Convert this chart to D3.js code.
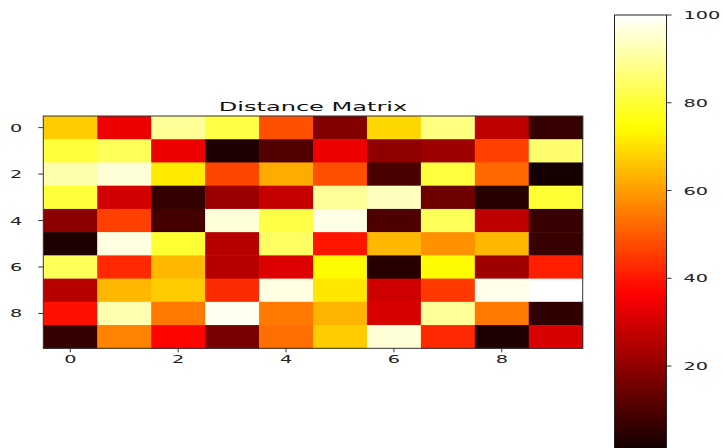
<!DOCTYPE html>
<html>
<head>
<meta charset="utf-8">
<script src="https://cdn.jsdelivr.net/npm/d3@7"></script>
<style>
  html, body { margin: 0; padding: 0; background: #fff; }
  svg { display: block; font-family: "DejaVu Sans", sans-serif; }
</style>
</head>
<body>
<svg id="chart" width="723" height="448"></svg>
<script>
const title = "Distance Matrix";
const rows = [0,1,2,3,4,5,6,7,8,9];
const cols = [0,1,2,3,4,5,6,7,8,9];
const tickLabels = [0,2,4,6,8];
const colorbarTicks = [20,40,60,80,100];
const colorDomain = [0, 100];

const row0 = [67, 34, 89.6, 81.5, 48.5, 18, 68.6, 87.5, 27, 6.5];
const row1 = [80.6, 83.6, 34, 3, 10.7, 34, 20, 22, 46, 85.6];
const row2 = [91.5, 96, 71.6, 47, 62, 48.5, 9.3, 81, 52.2, 1.5];
const row3 = [80.6, 30, 6.4, 21.5, 28, 89.6, 93.6, 15, 4.3, 80];
const row4 = [19.3, 46, 8.6, 96, 81.6, 97.6, 10, 83.6, 27, 7];
const row5 = [2.9, 97, 79.6, 25.8, 84.6, 39.5, 64, 58, 64, 7];
const row6 = [83.6, 42.5, 64, 25.8, 31.5, 74, 4.3, 74, 22, 41];
const row7 = [25.8, 64, 67, 43, 97, 71, 29.3, 44.7, 98, 100];
const row8 = [38.7, 92, 54.5, 98.5, 54.5, 63.5, 30.8, 89.6, 54.5, 5.7];
const row9 = [6.4, 56, 37, 16.5, 53, 67, 96, 42.5, 2.9, 30.8];
const matrix = [row0, row1, row2, row3, row4, row5, row6, row7, row8, row9];

// matplotlib "hot" colormap
function hot(t) {
  t = Math.max(0, Math.min(1, t));
  const a = 0.365079, b = 0.746032;
  const r = t < a ? 0.0416 + (1 - 0.0416) * t / a : 1;
  const g = t < a ? 0 : (t < b ? (t - a) / (b - a) : 1);
  const bl = t < b ? 0 : (t - b) / (1 - b);
  return d3.rgb(r * 255, g * 255, bl * 255).toString();
}
const norm = d3.scaleLinear().domain(colorDomain).range([0, 1]);
const color = v => hot(norm(v));

const svg = d3.select("#chart");

const plot = { left: 43.3, right: 582.7, top: 116, bottom: 348.3 };
const x = d3.scaleBand().domain(cols).range([plot.left, plot.right]);
const y = d3.scaleBand().domain(rows).range([plot.top, plot.bottom]);

const cells = [];
matrix.forEach((r, i) => r.forEach((v, j) => cells.push({ i, j, v })));

svg.append("g").selectAll("rect").data(cells).join("rect")
  .attr("x", d => x(d.j))
  .attr("y", d => y(d.i))
  .attr("width", x.bandwidth() + 0.5)
  .attr("height", y.bandwidth() + 0.5)
  .attr("fill", d => color(d.v));

// frame
svg.append("rect")
  .attr("x", plot.left).attr("y", plot.top)
  .attr("width", plot.right - plot.left).attr("height", plot.bottom - plot.top)
  .attr("fill", "none").attr("stroke", "#333").attr("stroke-width", 1);

const SX = 1.75;
const tickColor = "#333";

// x ticks
const xt = svg.append("g");
tickLabels.forEach(t => {
  const cx = x(t) + x.bandwidth() / 2;
  xt.append("line").attr("x1", cx).attr("x2", cx)
    .attr("y1", plot.bottom).attr("y2", plot.bottom + 4)
    .attr("stroke", tickColor);
  xt.append("text")
    .attr("transform", `translate(${cx},${plot.bottom + 15}) scale(${SX},1)`)
    .attr("text-anchor", "middle").attr("font-size", 11).attr("fill", "#222")
    .text(t);
});

// y ticks
const yt = svg.append("g");
tickLabels.forEach(t => {
  const cy = y(t) + y.bandwidth() / 2;
  yt.append("line").attr("x1", plot.left - 5).attr("x2", plot.left)
    .attr("y1", cy).attr("y2", cy).attr("stroke", tickColor);
  yt.append("text")
    .attr("transform", `translate(${plot.left - 21},${cy + 4}) scale(${SX},1)`)
    .attr("text-anchor", "end").attr("font-size", 11).attr("fill", "#222")
    .text(t);
});

// title
svg.append("text")
  .attr("transform", `translate(${(plot.left + plot.right) / 2},${plot.top - 5}) scale(1.85,1)`)
  .attr("text-anchor", "middle").attr("font-size", 13).attr("fill", "#111")
  .text(title);

// colorbar
const cb = { left: 614.5, right: 666.5 };
const cy = d3.scaleLinear().domain(colorDomain).range([453.8, 15]);
const defs = svg.append("defs");
const grad = defs.append("linearGradient").attr("id", "hotgrad")
  .attr("x1", 0).attr("y1", 1).attr("x2", 0).attr("y2", 0);
d3.range(0, 1.0001, 0.02).forEach(s => {
  grad.append("stop").attr("offset", s).attr("stop-color", hot(s));
});
svg.append("rect")
  .attr("x", cb.left).attr("y", cy(colorDomain[1]))
  .attr("width", cb.right - cb.left)
  .attr("height", cy(colorDomain[0]) - cy(colorDomain[1]))
  .attr("fill", "url(#hotgrad)")
  .attr("stroke", "#222").attr("stroke-width", 1);

const cbt = svg.append("g");
colorbarTicks.forEach(t => {
  cbt.append("line").attr("x1", cb.right).attr("x2", cb.right + 5)
    .attr("y1", cy(t)).attr("y2", cy(t)).attr("stroke", tickColor);
  cbt.append("text")
    .attr("transform", `translate(${cb.right + 17},${cy(t) + 4}) scale(${SX},1)`)
    .attr("text-anchor", "start").attr("font-size", 11).attr("fill", "#222")
    .text(t);
});
</script>
</body>
</html>
